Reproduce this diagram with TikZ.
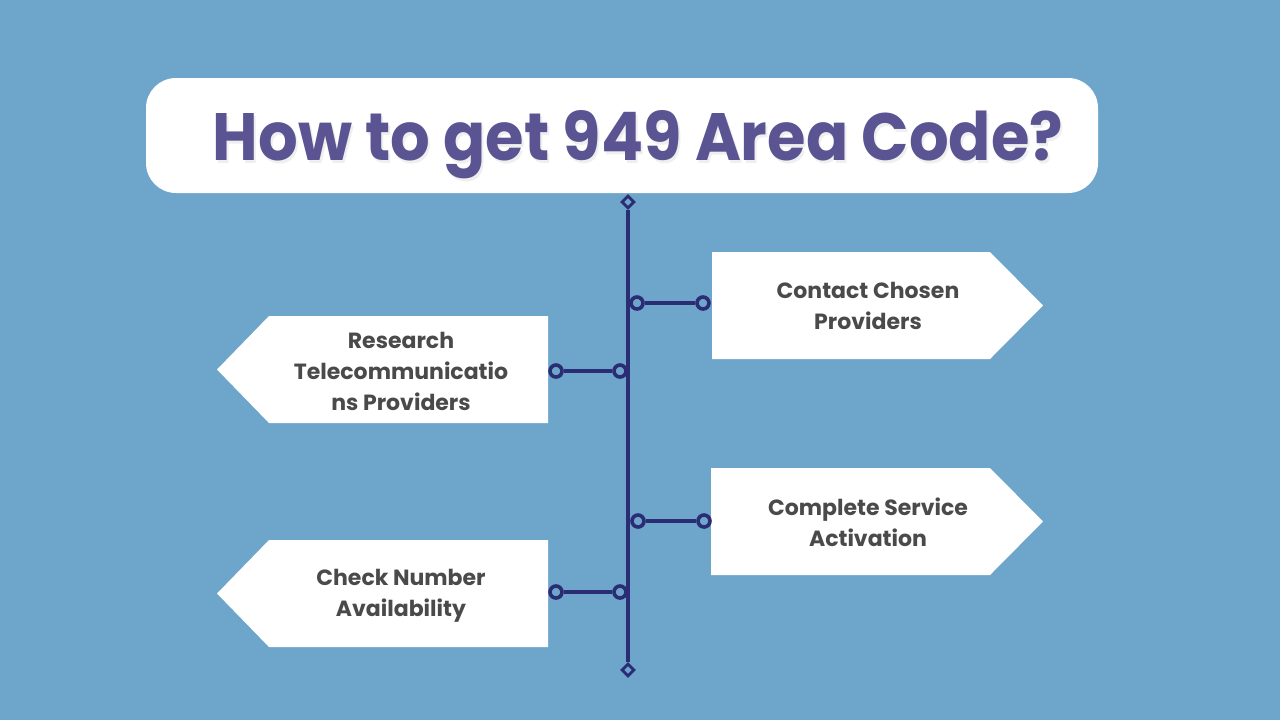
\documentclass[tikz,border=0pt]{standalone}
\usepackage{fontspec}
\setmainfont{Poppins}
\usetikzlibrary{shapes.geometric}
\definecolor{bgblue}{RGB}{110,166,203}
\definecolor{navy}{RGB}{42,44,116}
\definecolor{titlepurple}{RGB}{90,84,146}
\definecolor{txtgray}{RGB}{74,74,74}
\tikzset{
  stepshape/.style={fill=white, draw=none},
  ring/.style={circle, draw=navy, fill=bgblue, line width=1.8pt, minimum size=6pt, inner sep=0pt},
  endmark/.style={diamond, draw=navy, fill=bgblue, line width=1.4pt, minimum width=6.5pt, minimum height=6.5pt, inner sep=0pt},
  link/.style={draw=navy, line width=2pt},
  steptext/.style={text=txtgray, font=\fontsize{11pt}{15.5pt}\selectfont\bfseries, align=center}
}
\begin{document}
\begin{tikzpicture}[x=0.5pt,y=-0.5pt]
\fill[bgblue] (0,0) rectangle (1280,720);
\useasboundingbox (0,0) rectangle (1280,720);
% title box
\fill[white, rounded corners=15pt] (146,78) rectangle (1098,193);
\node[text=black!30, opacity=0.2, anchor=base] at (640,163) {\resizebox{425pt}{25pt}{\bfseries How to get 949 Area Code?}};
\node (title) [text=titlepurple, anchor=base] at (638,160) {\resizebox{425pt}{25pt}{\bfseries How to get 949 Area Code?}};
% step shapes
\fill[stepshape] (712,252) -- (990,252) -- (1043,305.5) -- (990,359) -- (712,359) -- cycle;
\fill[stepshape] (548,316) -- (269,316) -- (217,369.5) -- (269,423) -- (548,423) -- cycle;
\fill[stepshape] (711,468) -- (990,468) -- (1043,521.5) -- (990,575) -- (711,575) -- cycle;
\fill[stepshape] (548,540) -- (269,540) -- (217,593.5) -- (269,647) -- (548,647) -- cycle;
% texts
\node (s1) [steptext] at (868,306) {Contact Chosen\\Providers};
\node (s2) [steptext] at (401,371) {Research\\Telecommunicatio\\ns Providers};
\node (s3) [steptext] at (868,522) {Complete Service\\Activation};
\node (s4) [steptext] at (401,596) {Check Number\\Availability};
% timeline
\node (top) [endmark] at (628,202) {};
\node (bot) [endmark] at (628,670) {};
\draw[link] (top) -- (bot);
% connectors
\node (r1a) [ring] at (637,303) {};
\node (r1b) [ring] at (703,303) {};
\node (l1a) [ring] at (620,371) {};
\node (l1b) [ring] at (556,371) {};
\node (r2a) [ring] at (638,521) {};
\node (r2b) [ring] at (704,521) {};
\node (l2a) [ring] at (620,592) {};
\node (l2b) [ring] at (556,592) {};
\draw[link] (r1a) -- (r1b);
\draw[link] (l1a) -- (l1b);
\draw[link] (r2a) -- (r2b);
\draw[link] (l2a) -- (l2b);
\end{tikzpicture}
\end{document}
